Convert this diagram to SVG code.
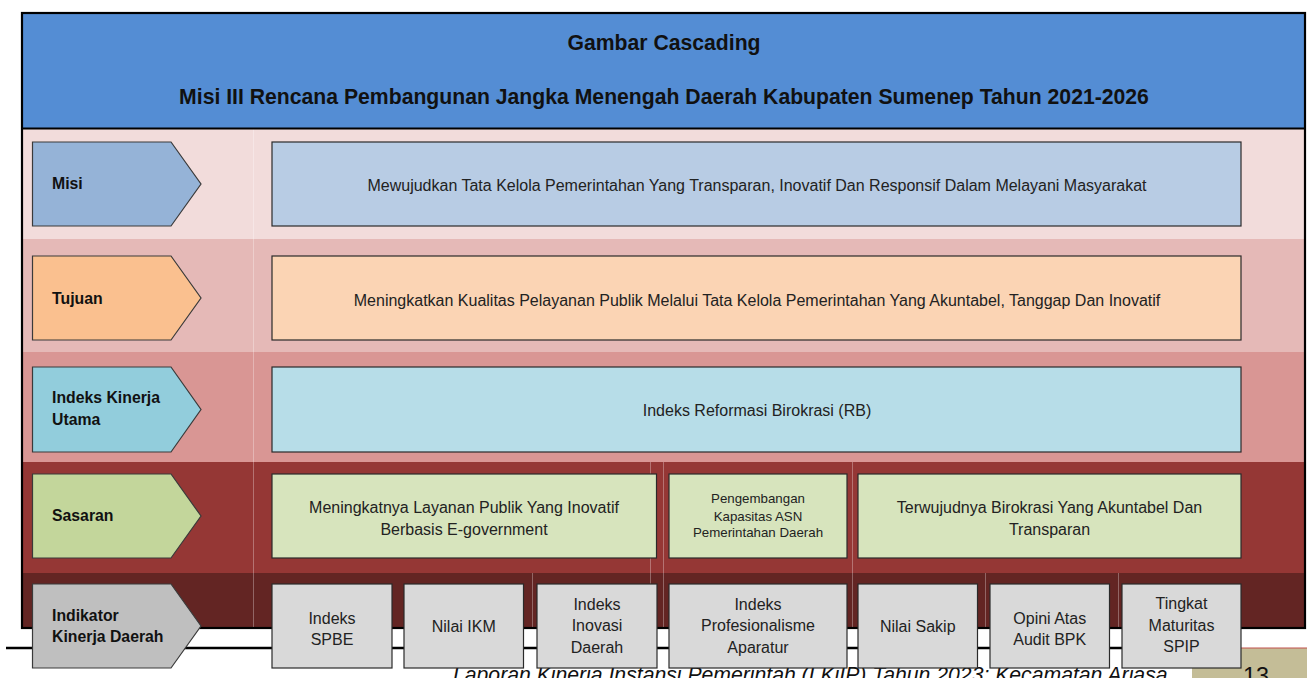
<svg xmlns="http://www.w3.org/2000/svg" width="1307" height="678" viewBox="0 0 1307 678">
<style>
.lbl{font-family:"Liberation Sans",Arial,sans-serif;font-weight:bold;font-size:15.8px;fill:#111}
.t{font-family:"Liberation Sans",Arial,sans-serif;font-size:16px;fill:#222;text-anchor:middle}
.ts{font-family:"Liberation Sans",Arial,sans-serif;font-size:13.3px;fill:#222;text-anchor:middle}
.h{font-family:"Liberation Sans",Arial,sans-serif;font-weight:bold;font-size:21.2px;fill:#111;text-anchor:middle}
.arr{stroke:#3a3a3a;stroke-width:1.2}
.box{stroke:#2a2a2a;stroke-width:1.2}
.grid{stroke:#ffffff;stroke-opacity:0.3;stroke-width:1}
</style>
<rect width="1307" height="678" fill="#ffffff"/>
<!-- footer -->
<line x1="6" y1="648" x2="1192" y2="648" stroke="#000" stroke-width="2.5"/>
<rect x="1192" y="648" width="115" height="30" fill="#c4bd97"/>
<line x1="1192" y1="648" x2="1307" y2="648" stroke="#c0504d" stroke-width="1"/>
<text x="1256" y="684" style="font-family:'Liberation Sans',Arial,sans-serif;font-size:23.4px;fill:#111;text-anchor:middle">13</text>
<text x="453" y="682" style="font-family:'Liberation Sans',Arial,sans-serif;font-size:21.2px;font-style:italic;fill:#111">Laporan Kinerja Instansi Pemerintah (LKjIP) Tahun 2023: Kecamatan Arjasa</text>
<!-- bands -->
<g id="bands">
<rect x="22" y="13" width="1283" height="116" fill="#548dd4"/>
<rect x="22" y="129" width="1283" height="110" fill="#f2dcdb"/>
<rect x="22" y="239" width="1283" height="113" fill="#e5b9b7"/>
<rect x="22" y="352" width="1283" height="110" fill="#d99694"/>
<rect x="22" y="462" width="1283" height="111" fill="#953735"/>
<rect x="22" y="573" width="1283" height="55" fill="#632523"/>
<line class="grid" x1="253.5" y1="129" x2="253.5" y2="628"/>
<line class="grid" x1="650.5" y1="462" x2="650.5" y2="628"/>
<line class="grid" x1="663.5" y1="462" x2="663.5" y2="628"/>
<line class="grid" x1="852.5" y1="462" x2="852.5" y2="628"/>
<line class="grid" x1="532.5" y1="573" x2="532.5" y2="628"/>
<line class="grid" x1="985.5" y1="573" x2="985.5" y2="628"/>
<line class="grid" x1="1118.5" y1="573" x2="1118.5" y2="628"/>
<rect x="22" y="13" width="1283" height="615" fill="none" stroke="#000" stroke-width="2.2"/>
<line x1="22" y1="128.5" x2="1305" y2="128.5" stroke="#000" stroke-width="2"/>
</g>
<g id="header">
<text class="h" x="664" y="49.5">Gambar Cascading</text>
<text class="h" x="664" y="104">Misi III Rencana Pembangunan Jangka Menengah Daerah Kabupaten Sumenep Tahun 2021-2026</text>
</g>
<!-- row labels -->
<g id="lbl-misi"><polygon class="arr" points="32.5,142 171,142 201,184 171,226 32.5,226" fill="#95b3d7"/><text class="lbl" x="52" y="189">Misi</text></g>
<g id="lbl-tujuan"><polygon class="arr" points="32.5,256 171,256 201,298 171,340 32.5,340" fill="#fac08f"/><text class="lbl" x="52" y="304">Tujuan</text></g>
<g id="lbl-iku"><polygon class="arr" points="32.5,367 171,367 201,409.5 171,452 32.5,452" fill="#92cddc"/><text class="lbl" x="52" y="403">Indeks Kinerja</text><text class="lbl" x="52" y="425">Utama</text></g>
<g id="lbl-sasaran"><polygon class="arr" points="32.5,474 171,474 201,516 171,558 32.5,558" fill="#c3d69b"/><text class="lbl" x="52" y="521">Sasaran</text></g>
<g id="lbl-indikator"><polygon class="arr" points="32.5,584 171,584 201,626 171,668 32.5,668" fill="#bfbfbf"/><text class="lbl" x="52" y="620.5">Indikator</text><text class="lbl" x="52" y="642">Kinerja Daerah</text></g>
<!-- content boxes -->
<g id="misi"><rect class="box" x="272" y="142" width="969" height="84" fill="#b8cce4"/><text class="t" x="757" y="191">Mewujudkan Tata Kelola Pemerintahan Yang Transparan, Inovatif Dan Responsif Dalam Melayani Masyarakat</text></g>
<g id="tujuan"><rect class="box" x="272" y="256" width="969" height="84" fill="#fbd4b4"/><text class="t" x="757" y="306">Meningkatkan Kualitas Pelayanan Publik Melalui Tata Kelola Pemerintahan Yang Akuntabel, Tanggap Dan Inovatif</text></g>
<g id="iku"><rect class="box" x="272" y="367" width="969" height="85" fill="#b7dde8"/><text class="t" x="757" y="416">Indeks Reformasi Birokrasi (RB)</text></g>
<g id="sasaran1"><rect class="box" x="272" y="474" width="384.5" height="84" fill="#d7e4bd"/><text class="t" x="464" y="513">Meningkatnya Layanan Publik Yang Inovatif</text><text class="t" x="464" y="535">Berbasis E-government</text></g>
<g id="sasaran2"><rect class="box" x="669" y="474" width="178" height="84" fill="#d7e4bd"/><text class="ts" x="758" y="503">Pengembangan</text><text class="ts" x="758" y="520.5">Kapasitas ASN</text><text class="ts" x="758" y="537">Pemerintahan Daerah</text></g>
<g id="sasaran3"><rect class="box" x="858" y="474" width="383" height="84" fill="#d7e4bd"/><text class="t" x="1049.5" y="513">Terwujudnya Birokrasi Yang Akuntabel Dan</text><text class="t" x="1049.5" y="535">Transparan</text></g>
<g id="ind1"><rect class="box" x="272" y="584" width="120" height="84" fill="#d9d9d9"/><text class="t" x="332" y="623.5">Indeks</text><text class="t" x="332" y="644.5">SPBE</text></g>
<g id="ind2"><rect class="box" x="404" y="584" width="119.5" height="84" fill="#d9d9d9"/><text class="t" x="463.75" y="631.5">Nilai IKM</text></g>
<g id="ind3"><rect class="box" x="537" y="584" width="120" height="84" fill="#d9d9d9"/><text class="t" x="597" y="609.5">Indeks</text><text class="t" x="597" y="631">Inovasi</text><text class="t" x="597" y="652.5">Daerah</text></g>
<g id="ind4"><rect class="box" x="669" y="584" width="178" height="84" fill="#d9d9d9"/><text class="t" x="758" y="609.5">Indeks</text><text class="t" x="758" y="631">Profesionalisme</text><text class="t" x="758" y="652.5">Aparatur</text></g>
<g id="ind5"><rect class="box" x="858" y="584" width="119.5" height="84" fill="#d9d9d9"/><text class="t" x="917.75" y="631.5">Nilai Sakip</text></g>
<g id="ind6"><rect class="box" x="990" y="584" width="119.5" height="84" fill="#d9d9d9"/><text class="t" x="1049.75" y="623.5">Opini Atas</text><text class="t" x="1049.75" y="644.5">Audit BPK</text></g>
<g id="ind7"><rect class="box" x="1122" y="584" width="119" height="84" fill="#d9d9d9"/><text class="t" x="1181.5" y="609">Tingkat</text><text class="t" x="1181.5" y="630.5">Maturitas</text><text class="t" x="1181.5" y="652">SPIP</text></g>
<g id="connectors"></g>
</svg>
